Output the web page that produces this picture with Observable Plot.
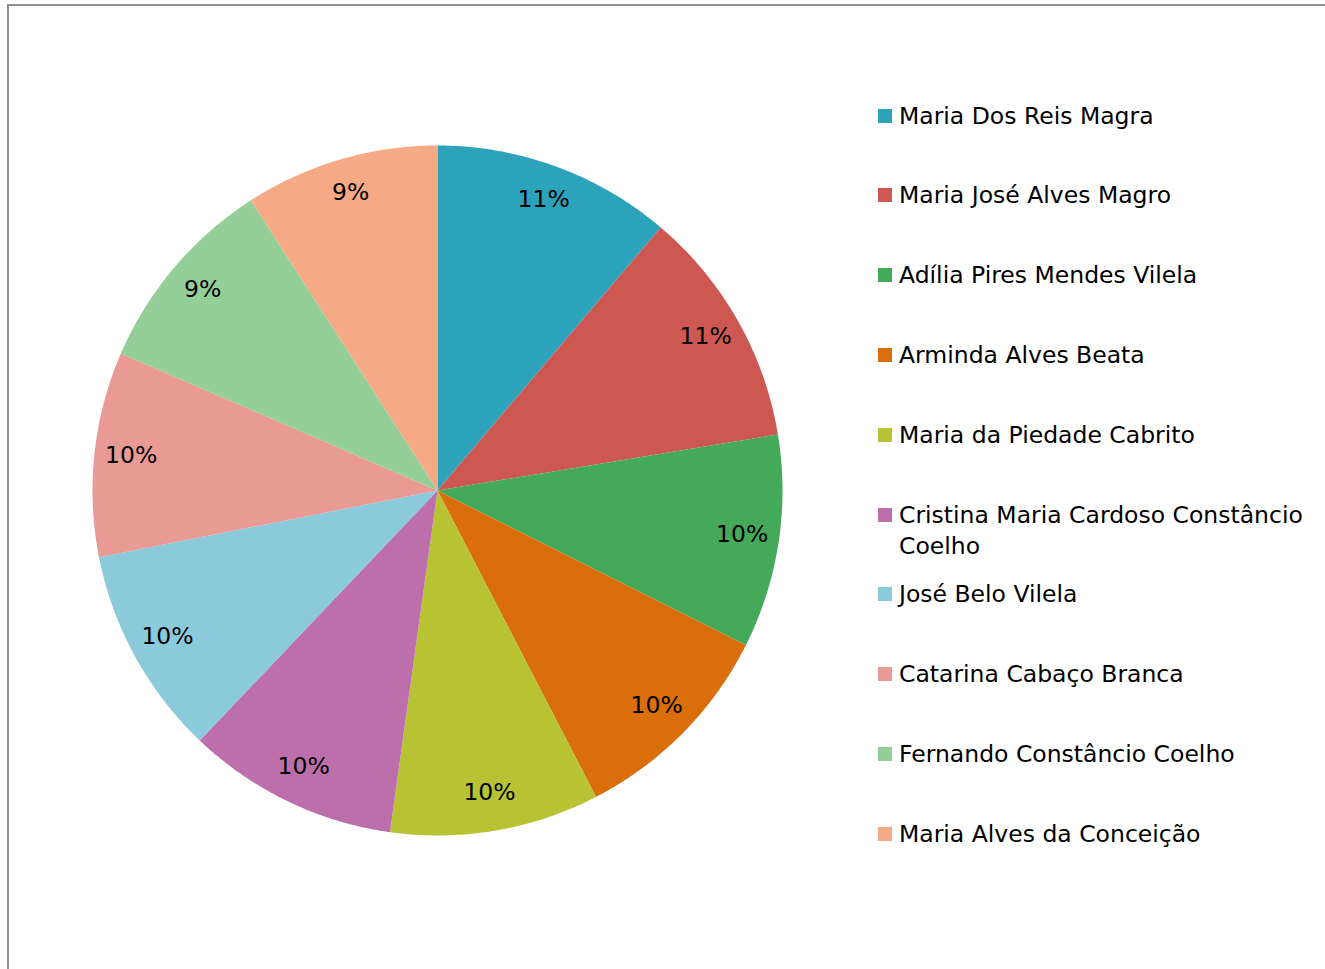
<!DOCTYPE html>
<html>
<head>
<meta charset="utf-8">
<script src="https://cdn.jsdelivr.net/npm/d3@7"></script>
<script src="https://cdn.jsdelivr.net/npm/@observablehq/plot@0.6"></script>
<style>
  html, body { margin: 0; padding: 0; background: #fff; }
  #wrap { position: relative; width: 1325px; height: 969px; overflow: hidden;
          font-family: "DejaVu Sans", sans-serif; }
  #frame { position: absolute; left: 7px; top: 4px; right: -10px; bottom: -10px;
           border-left: 2px solid #8f8f8f; border-top: 2px solid #8f8f8f; pointer-events: none; }
  #chart { position: absolute; left: 0; top: 0; }
  .leg { position: absolute; left: 878px; font-size: 23.5px; line-height: 31px; color: #000; }
  .leg .sw { position: absolute; left: 0; top: 9px; width: 14px; height: 14px; }
  .leg .tx { position: absolute; left: 21px; top: 1px; width: 425px; }
</style>
</head>
<body>
<div id="wrap"><div id="frame"></div><div id="chart"></div></div>
<script>
const names = [
  "Maria Dos Reis Magra",
  "Maria José Alves Magro",
  "Adília Pires Mendes Vilela",
  "Arminda Alves Beata",
  "Maria da Piedade Cabrito",
  "Cristina Maria Cardoso Constâncio Coelho",
  "José Belo Vilela",
  "Catarina Cabaço Branca",
  "Fernando Constâncio Coelho",
  "Maria Alves da Conceição"
];
const shares = [11.2, 11.2, 10.0, 10.0, 9.8, 9.9, 9.8, 9.6, 9.4, 9.1];
const labels = ["11%", "11%", "10%", "10%", "10%", "10%", "10%", "10%", "9%", "9%"];
const colors = ["#2ca3bb", "#cd5852", "#45a95a", "#d96e0b", "#b8c334",
                "#bc6fab", "#8acadb", "#ea9a95", "#94cf99", "#f6a985"];

const W = 1325, H = 969, CX = 437, CY = 490, R = 345;

const arcs = d3.pie().sort(null).value(d => d.v)(names.map((n, i) => ({n, v: shares[i], l: labels[i]})));

// polygon points of each slice (unit circle, y up, angle clockwise from top)
const pts = [];
for (const a of arcs) {
  const n = a.data.n;
  pts.push({n, x: 0, y: 0});
  const steps = Math.max(8, Math.ceil((a.endAngle - a.startAngle) / 0.01));
  for (let k = 0; k <= steps; k++) {
    const t = a.startAngle + (a.endAngle - a.startAngle) * k / steps;
    pts.push({n, x: Math.sin(t), y: Math.cos(t)});
  }
  pts.push({n, x: 0, y: 0});
}
const labelPts = arcs.map(a => {
  const m = (a.startAngle + a.endAngle) / 2;
  return {n: a.data.n, l: a.data.l, x: 0.893 * Math.sin(m), y: 0.893 * Math.cos(m)};
});

const plot = Plot.plot({
  width: W, height: H,
  margin: 0,
  x: {domain: [-CX / R, (W - CX) / R], range: [0, W], axis: null},
  y: {domain: [-(H - CY) / R, CY / R], range: [H, 0], axis: null},
  color: {domain: names, range: colors},
  style: {background: "transparent", overflow: "visible"},
  marks: [
    Plot.line(pts, {x: "x", y: "y", z: "n", fill: "n", stroke: "none", curve: "linear"}),
    Plot.text(labelPts, {x: "x", y: "y", text: "l", fill: "#000", fontSize: 23.5, dy: -2,
      fontFamily: "'DejaVu Sans', sans-serif"})
  ]
});
document.getElementById("chart").appendChild(plot);

// legend
const wrap = document.getElementById("wrap");
names.forEach((n, i) => {
  const d = document.createElement("div");
  d.className = "leg";
  d.style.top = (115 + i * 79.8 - 15.5) + "px";
  d.innerHTML = `<div class="sw" style="background:${colors[i]}"></div><div class="tx"></div>`;
  d.querySelector(".tx").textContent = n;
  wrap.appendChild(d);
});
</script>
</body>
</html>
